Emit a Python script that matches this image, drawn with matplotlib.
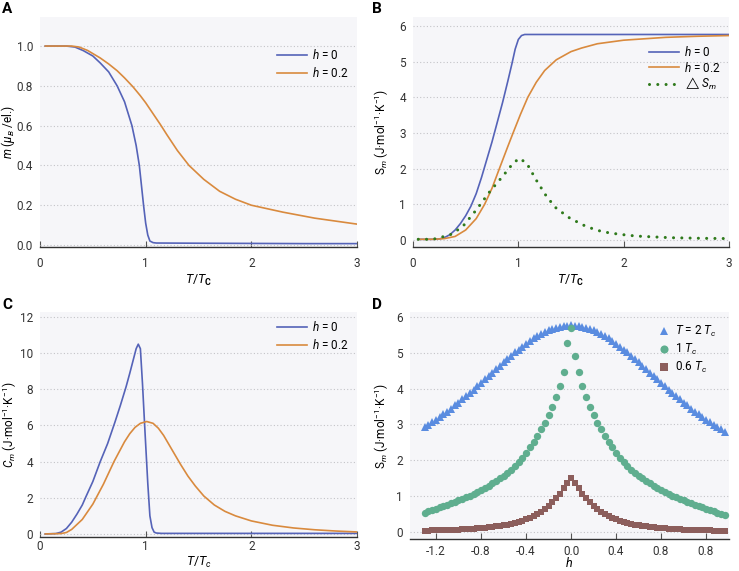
import numpy as np
import matplotlib
matplotlib.use('Agg')
from matplotlib import pyplot as plt

plt.rcParams['font.family'] = ['Roboto', 'DejaVu Sans']
plt.rcParams['mathtext.fontset'] = 'custom'
plt.rcParams['mathtext.rm'] = 'Roboto'
plt.rcParams['mathtext.it'] = 'Roboto:italic'
plt.rcParams['mathtext.bf'] = 'Roboto:bold'

# DATA ------------------------------------------------------------------------
# (A) magnetisation vs T/Tc
tA0 = [0.05, 0.25, 0.33, 0.41, 0.5, 0.57, 0.65, 0.73, 0.8, 0.87, 0.91, 0.94, 0.96,
       0.98, 1.0, 1.02, 1.04, 1.07, 1.1, 1.5, 2.0, 2.5, 3.0]
mA0 = [1.0, 1.0, 0.995, 0.977, 0.95, 0.915, 0.87, 0.8, 0.72, 0.6, 0.5, 0.4, 0.3,
       0.2, 0.11, 0.05, 0.02, 0.012, 0.01, 0.009, 0.008, 0.007, 0.007]
tA2 = [0.05, 0.3, 0.37, 0.45, 0.57, 0.65, 0.73, 0.8, 0.88, 0.95, 1.0, 1.07, 1.14, 1.2,
       1.3, 1.41, 1.55, 1.7, 1.85, 2.0, 2.3, 2.6, 3.0]
mA2 = [1.0, 1.0, 0.995, 0.978, 0.94, 0.91, 0.876, 0.84, 0.795, 0.75, 0.715, 0.66, 0.605,
       0.555, 0.475, 0.4, 0.33, 0.27, 0.23, 0.2, 0.165, 0.135, 0.105]

# (B) magnetic entropy vs T/Tc
tB0 = [0.05, 0.2, 0.25, 0.3, 0.35, 0.4, 0.45, 0.5, 0.55, 0.6, 0.65, 0.7, 0.75, 0.8,
       0.85, 0.9, 0.94, 0.97, 1.0, 1.03, 1.06, 1.1, 2.0, 3.0]
sB0 = [0.02, 0.02, 0.03, 0.07, 0.15, 0.28, 0.46, 0.68, 0.95, 1.3, 1.75, 2.25, 2.75, 3.3,
       3.85, 4.45, 4.95, 5.35, 5.62, 5.73, 5.76, 5.76, 5.76, 5.76]
tB2 = [0.05, 0.2, 0.3, 0.4, 0.5, 0.6, 0.68, 0.75, 0.82, 0.9, 0.95, 1.02, 1.09, 1.17,
       1.25, 1.36, 1.5, 1.6, 1.75, 2.0, 2.4, 2.7, 3.0]
sB2 = [0.02, 0.02, 0.04, 0.1, 0.28, 0.6, 1.0, 1.45, 2.0, 2.62, 3.0, 3.52, 4.0, 4.42,
       4.75, 5.05, 5.28, 5.38, 5.5, 5.6, 5.68, 5.71, 5.73]
tBd = [0.05, 0.19, 0.35, 0.47, 0.6, 0.73, 0.85, 0.95, 1.01, 1.08, 1.17, 1.27, 1.36, 1.49,
       1.65, 1.8, 1.96, 2.12, 2.44, 2.75, 3.0]
sBd = [0.02, 0.02, 0.14, 0.37, 0.84, 1.36, 1.78, 2.15, 2.29, 2.15, 1.68, 1.21, 0.89, 0.61,
       0.37, 0.23, 0.16, 0.11, 0.065, 0.047, 0.04]

# (C) magnetic heat capacity vs T/Tc
tC0 = [0.05, 0.15, 0.2, 0.25, 0.3, 0.35, 0.4, 0.43, 0.5, 0.57, 0.64, 0.71, 0.76, 0.815,
       0.85, 0.89, 0.91, 0.93, 0.95, 0.97, 0.995, 1.02, 1.04, 1.06, 1.08, 1.1, 1.15,
       1.5, 2.0, 3.0]
cC0 = [0.0, 0.02, 0.1, 0.3, 0.65, 1.1, 1.6, 2.0, 2.9, 4.0, 5.0, 6.2, 7.1, 8.15, 8.9,
       9.8, 10.25, 10.5, 10.25, 8.3, 5.5, 2.8, 1.0, 0.35, 0.1, 0.05, 0.03, 0.03, 0.03,
       0.03]
tC2 = [0.05, 0.2, 0.25, 0.3, 0.4, 0.5, 0.6, 0.7, 0.8, 0.85, 0.9, 0.95, 1.01, 1.07,
       1.12, 1.17, 1.22, 1.27, 1.33, 1.4, 1.47, 1.55, 1.65, 1.75, 1.85, 2.0, 2.2, 2.4,
       2.6, 2.8, 3.0]
cC2 = [0.0, 0.02, 0.08, 0.25, 0.8, 1.65, 2.75, 4.0, 5.1, 5.55, 5.9, 6.12, 6.22, 6.12,
       5.85, 5.45, 4.95, 4.45, 3.85, 3.2, 2.65, 2.1, 1.6, 1.25, 1.0, 0.72, 0.48, 0.33,
       0.23, 0.16, 0.11]

# (D) magnetic entropy vs field h at three temperatures (81 field values)
hD = np.linspace(-1.3, 1.3667, 81)
sD_2Tc = [2.92, 2.99, 3.06, 3.13, 3.21, 3.28, 3.36, 3.44, 3.53, 3.61, 3.70, 3.79, 3.88,
          3.97, 4.07, 4.16, 4.26, 4.36, 4.45, 4.55, 4.64, 4.74, 4.83, 4.92, 5.01, 5.09,
          5.17, 5.25, 5.33, 5.40, 5.47, 5.53, 5.58, 5.63, 5.67, 5.70, 5.73, 5.75, 5.76,
          5.77,
          5.76, 5.75, 5.73, 5.70, 5.67, 5.63, 5.58, 5.53, 5.47, 5.40, 5.33, 5.25, 5.17,
          5.09, 5.01, 4.92, 4.83, 4.74, 4.64, 4.55, 4.45, 4.36, 4.26, 4.16, 4.07, 3.97,
          3.88, 3.79, 3.70, 3.61, 3.53, 3.44, 3.36, 3.28, 3.21, 3.13, 3.06, 2.99, 2.92,
          2.86, 2.80]
sD_1Tc = [0.54, 0.58, 0.61, 0.65, 0.69, 0.72, 0.76, 0.80, 0.84, 0.88, 0.92, 0.96, 1.01,
          1.06, 1.11, 1.17, 1.23, 1.29, 1.36, 1.43, 1.50, 1.57, 1.65, 1.74, 1.84, 1.95,
          2.07, 2.21, 2.36, 2.50, 2.67, 2.86, 3.05, 3.26, 3.50, 3.76, 4.07, 4.46, 5.28,
          5.70,
          4.90, 4.46, 4.07, 3.76, 3.50, 3.26, 3.05, 2.86, 2.67, 2.50, 2.36, 2.21, 2.07,
          1.95, 1.84, 1.74, 1.65, 1.57, 1.50, 1.43, 1.36, 1.29, 1.23, 1.17, 1.11, 1.06,
          1.01, 0.96, 0.92, 0.88, 0.84, 0.80, 0.76, 0.72, 0.69, 0.65, 0.61, 0.58, 0.54,
          0.51, 0.47]
sD_06Tc = [0.035, 0.035, 0.04, 0.04, 0.045, 0.05, 0.05, 0.055, 0.06, 0.065, 0.07, 0.075,
           0.08, 0.09, 0.095, 0.105, 0.115, 0.13, 0.14, 0.15, 0.165, 0.18, 0.20, 0.22,
           0.25, 0.28, 0.31, 0.35, 0.39, 0.44, 0.50, 0.56, 0.64, 0.73, 0.82, 0.94, 1.07,
           1.23, 1.37,
           1.51,
           1.37, 1.23, 1.07, 0.94, 0.82, 0.73, 0.64, 0.56, 0.50, 0.44, 0.39, 0.35, 0.31,
           0.28, 0.25, 0.22, 0.20, 0.18, 0.165, 0.15, 0.14, 0.13, 0.115, 0.105, 0.095,
           0.09, 0.08, 0.075, 0.07, 0.065, 0.06, 0.055, 0.05, 0.05, 0.045, 0.04, 0.04,
           0.035, 0.035, 0.03, 0.03]

hD_ticks  = [-1.2, -0.8, -0.4, 0.0, 0.4, 0.8, 1.2]
hD_labels = ['-1.2', '-0.8', '-0.4', '0.0', '0.4', '0.8', '0.8']

# STYLE -----------------------------------------------------------------------
c_h0   = '#5563b8'
c_h2   = '#d98a3e'
c_dS   = '#2f7a1c'
c_2Tc  = '#5a8ce0'
c_1Tc  = '#5fae8f'
c_06Tc = '#8c5e5c'
bg     = '#f6f6f9'
fs_tick = 8.5
fs_lab  = 9.0
fs_ylab = 8.5
fs_leg  = 8.5
ylab_sm = r'(J·mol$^{-1}$·K$^{-1}$)'

W, H = 739, 571
fig = plt.figure(figsize=(W/100, H/100), dpi=100)

def mkax(l, r, t, b):
    return fig.add_axes([l/W, 1-b/H, (r-l)/W, (b-t)/H])

axA = mkax(40, 357, 17, 247)
axB = mkax(413, 729, 17, 247)
axC = mkax(40, 357, 312, 537)
axD = mkax(410, 729, 312, 539)

def style(ax, xpad):
    ax.set_facecolor(bg)
    for s in ['top', 'right', 'left']:
        ax.spines[s].set_visible(False)
    ax.spines['bottom'].set_color('#333333')
    ax.spines['bottom'].set_linewidth(1.0)
    ax.yaxis.grid(True, linestyle=(0, (1, 2)), color='#c4c4c8', linewidth=0.8)
    ax.set_axisbelow(True)
    ax.tick_params(axis='y', length=0, pad=5, labelsize=fs_tick, labelcolor='#333333')
    ax.tick_params(axis='x', direction='in', length=4, width=0.8, color='#555555',
                   pad=xpad, labelsize=fs_tick, labelcolor='#333333')

style(axA, 7)
style(axB, 7)
style(axC, 2.5)
style(axD, 4)

leg_kw = dict(frameon=False, fontsize=fs_leg, handlelength=2.5, handletextpad=0.45,
              borderaxespad=0.3)

# (A)
axA.plot(tA0, mA0, color=c_h0, lw=1.2, label=r'$h$ = 0')
axA.plot(tA2, mA2, color=c_h2, lw=1.2, label=r'$h$ = 0.2')
axA.set_xlim(0, 3)
axA.set_ylim(-0.01, 1.146)
axA.set_xticks([0, 1, 2, 3])
axA.set_yticks(np.arange(0, 1.01, 0.2))
axA.set_yticklabels(['0.0', '0.2', '0.4', '0.6', '0.8', '1.0'])
axA.set_xlabel(r'$T/T_{\mathbf{C}}$', fontsize=fs_lab, labelpad=2)
axA.set_ylabel(r'$m$ ($\mu_B$ /el.)', fontsize=fs_ylab)
axA.yaxis.set_label_coords(-0.074, 0.5)
axA.legend(loc='upper right', bbox_to_anchor=(1.0, 0.9), labelspacing=0.3, **leg_kw)

# (B)
axB.plot(tB0, sB0, color=c_h0, lw=1.2, label=r'$h$ = 0')
axB.plot(tB2, sB2, color=c_h2, lw=1.2, label=r'$h$ = 0.2')
axB.plot(tBd, sBd, color=c_dS, lw=2.2, linestyle=(0, (0.01, 2.7)),
         dash_capstyle='round', label=r'$\triangle S_m$')
axB.set_xlim(0, 3)
axB.set_ylim(-0.196, 6.25)
axB.set_xticks([0, 1, 2, 3])
axB.set_yticks(np.arange(0, 7, 1))
axB.set_xlabel(r'$T/T_{\mathbf{C}}$', fontsize=fs_lab, labelpad=2)
axB.set_ylabel(r'S$_m$ ' + ylab_sm, fontsize=fs_ylab)
axB.yaxis.set_label_coords(-0.07, 0.5)
axB.legend(loc='upper right', bbox_to_anchor=(1.0, 0.915), labelspacing=0.15, **leg_kw)

# (C)
axC.plot(tC0, cC0, color=c_h0, lw=1.2, label=r'$h$ = 0')
axC.plot(tC2, cC2, color=c_h2, lw=1.2, label=r'$h$ = 0.2')
axC.set_xlim(0, 3)
axC.set_ylim(-0.17, 12.28)
axC.set_xticks([0, 1, 2, 3])
axC.set_yticks(np.arange(0, 13, 2))
axC.set_xlabel(r'$T/T_c$', fontsize=fs_lab, labelpad=1)
axC.set_ylabel(r'$C_m$ ' + ylab_sm, fontsize=fs_ylab)
axC.yaxis.set_label_coords(-0.066, 0.5)
axC.legend(loc='upper right', bbox_to_anchor=(1.0, 1.0), labelspacing=0.3, **leg_kw)

# (D)
axD.plot(hD, sD_2Tc, '^', color=c_2Tc, ms=5.5, mew=0, label=r'$T$ = 2 $T_c$')
axD.plot(hD, sD_1Tc, 'o', color=c_1Tc, ms=5.3, mew=0, label=r'1 $T_c$')
axD.plot(hD, sD_06Tc, 's', color=c_06Tc, ms=4.8, mew=0, label=r'0.6 $T_c$')
axD.set_xlim(-1.431, 1.404)
axD.set_ylim(-0.2, 6.14)
axD.set_xticks(hD_ticks)
axD.set_xticklabels(hD_labels)
axD.set_yticks(np.arange(0, 7, 1))
axD.set_xlabel(r'$h$', fontsize=fs_lab, labelpad=-1)
axD.set_ylabel(r'S$_m$ ' + ylab_sm, fontsize=fs_ylab)
axD.yaxis.set_label_coords(-0.06, 0.5)
axD.legend(loc='upper right', bbox_to_anchor=(0.985, 0.985), frameon=False,
           fontsize=fs_leg, handlelength=0.8, handletextpad=0.5, labelspacing=0.25,
           borderaxespad=0.3, markerscale=1.1)

# panel letters
for lab, x, y in [('A', 2, 2), ('B', 372, 2), ('C', 2, 298), ('D', 372, 298)]:
    fig.text(x/W, 1-y/H, lab, fontsize=11, fontweight='bold', va='top', ha='left')

fig.savefig('out.png', dpi=100)
